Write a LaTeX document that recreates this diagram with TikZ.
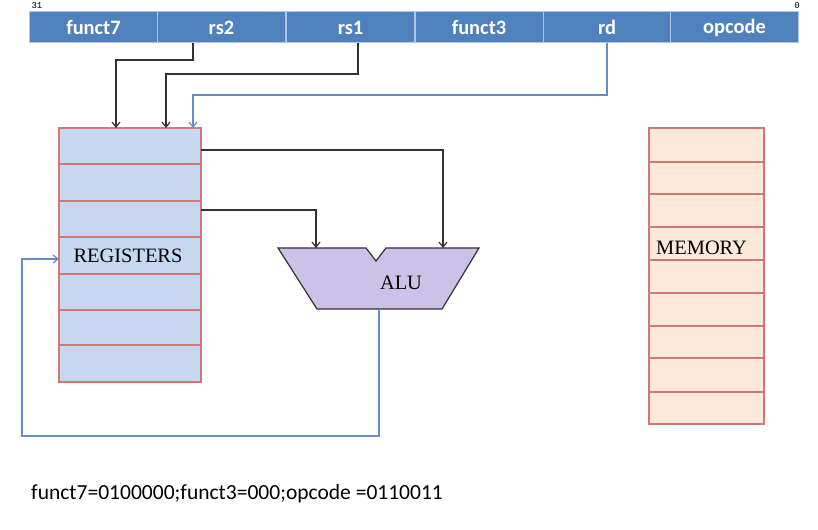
\documentclass[tikz,border=0pt]{standalone}
\usepackage{fontspec}
\setmainfont{Liberation Serif}
\newfontfamily\calib{Carlito}
\newfontfamily\monof{Liberation Mono}
\usetikzlibrary{arrows.meta}
\definecolor{hdr}{RGB}{79,129,189}
\definecolor{hdrsep}{RGB}{175,198,228}
\definecolor{regfill}{RGB}{198,217,241}
\definecolor{memfill}{RGB}{253,233,217}
\definecolor{boxred}{RGB}{208,120,118}
\definecolor{alufill}{RGB}{204,193,230}
\definecolor{wireblue}{RGB}{100,140,200}
\definecolor{wire}{RGB}{50,50,50}
\tikzset{
  cell/.style={fill=hdr, draw=hdrsep, line width=1bp, minimum width=128bp, minimum height=31bp, inner sep=0pt, text=white, font=\calib\bfseries\fontsize{20.5}{20.5}\selectfont},
  regbox/.style={fill=regfill, draw=boxred, line width=1.3bp, minimum width=142bp, minimum height=254bp, inner sep=0pt},
  membox/.style={fill=memfill, draw=boxred, line width=1.3bp, minimum width=115bp, minimum height=296bp, inner sep=0pt},
  rowline/.style={draw=boxred, line width=1.3bp},
  blk/.style={draw=wire, line width=1.2bp, -{Straight Barb[length=5bp,width=8bp]}},
  blu/.style={draw=wireblue, line width=1.2bp, -{Straight Barb[length=5bp,width=8bp]}},
  lbl/.style={font=\fontsize{20.5}{20.5}\selectfont, inner sep=0pt},
}
\begin{document}
\begin{tikzpicture}[x=1bp,y=-1bp]
\useasboundingbox (0,0) rectangle (818,530);
% instruction fields
\node[cell] (funct7) at (93.5,27.5) {funct7};
\node[cell] (rs2) at (221.5,27.5) {rs2};
\node[cell] (rs1) at (350.5,27.5) {rs1};
\node[cell] (funct3) at (479,27.5) {funct3};
\node[cell] (rd) at (607,27.5) {rd};
\node[cell] (opcode) at (734.5,27.5) {opcode};
\node[font=\monof\fontsize{9}{9}\selectfont, inner sep=0pt] (b31) at (37,6) {31};
\node[font=\monof\fontsize{9}{9}\selectfont, inner sep=0pt] (b0) at (797,6) {0};
% registers
\node[regbox] (regs) at (130,255) {};
\foreach \yy in {164,201,237,274,310,345} \draw[rowline] (59,\yy) -- (201,\yy);
\node[lbl] (reglbl) at (128,256) {REGISTERS};
% memory
\node[membox] (mem) at (706.5,276) {};
\foreach \yy in {162,194,227,260,293,326,358,392} \draw[rowline] (649,\yy) -- (764,\yy);
\node[lbl, anchor=west] (memlbl) at (656,248) {MEMORY};
% ALU
\draw[draw=wire, fill=alufill, line width=1.2bp] (278,248) -- (366,248) -- (376,261) -- (386,248) -- (479,248) -- (442,309) -- (317,309) -- cycle;
\coordinate (aluA) at (316,248);
\coordinate (aluB) at (443,248);
\coordinate (aluOut) at (379,309);
\node[lbl] (alulbl) at (401,283) {ALU};
% register address wires
\coordinate (regA) at (116,128);
\coordinate (regB) at (166,128);
\coordinate (regD) at (193,128);
\draw[blk] ([xshift=-28.5bp]rs2.south) |- (116,60) -- (regA);
\draw[blk] ([xshift=7.5bp]rs1.south) |- (166,74) -- (regB);
\draw[blu] (rd.south) |- (193,95) -- (regD);
% register outputs to ALU
\draw[blk] (201,150) -| (aluB);
\draw[blk] (201,210) -| (aluA);
% ALU result back to registers
\coordinate (regIn) at (59,259);
\draw[blu] (aluOut) |- (22,436) |- (regIn);
% encoding text
\node[font=\calib\fontsize{21.6}{21.6}\selectfont, inner sep=0pt, anchor=west] (enc) at (31,494) {funct7=0100000;funct3=000;opcode =0110011};
\end{tikzpicture}
\end{document}
